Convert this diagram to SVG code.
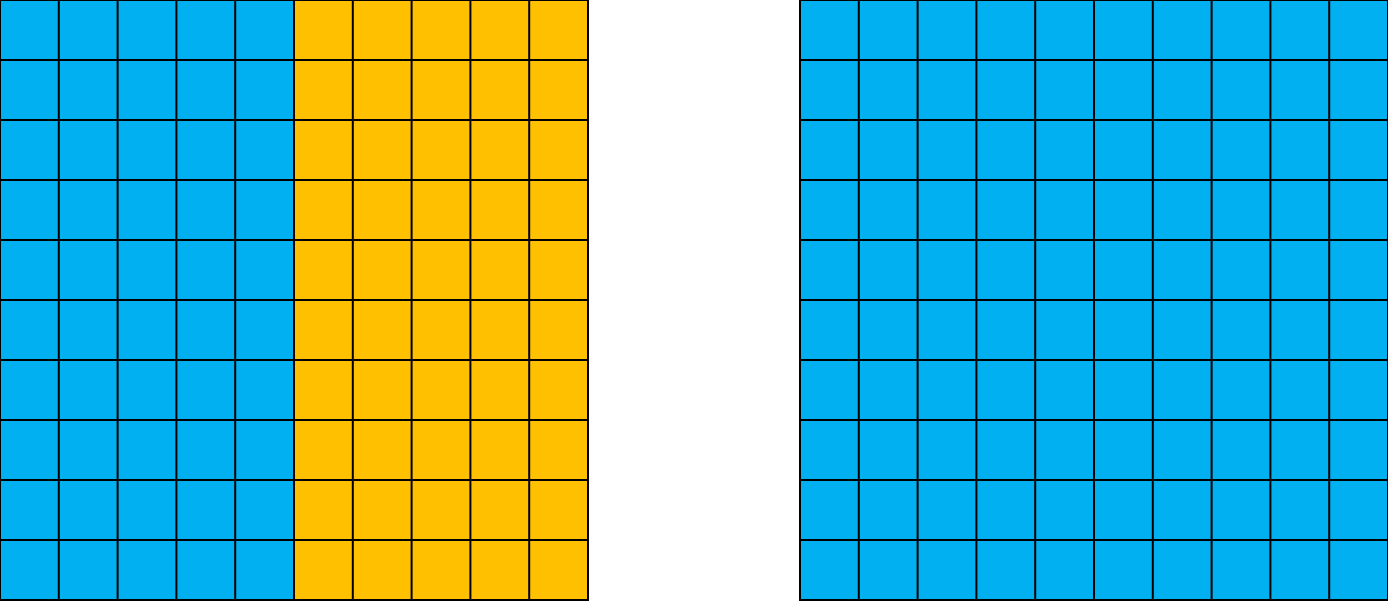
<svg xmlns="http://www.w3.org/2000/svg" width="1388" height="601" viewBox="0 0 1388 601">
<defs>
<pattern id="cellB" x="0" y="0" width="58.8" height="60" patternUnits="userSpaceOnUse">
<rect width="58.8" height="60" fill="#00B0F0"/>
</pattern>
</defs>
<style>
.b{fill:#00B0F0}
.o{fill:#FFC000}
.g{stroke:#000;stroke-width:2;fill:none}
</style>
<rect width="1388" height="601" fill="#fff"/>
<g id="left-grid">
<rect class="b" x="0" y="0" width="294" height="600"/>
<rect class="o" x="294" y="0" width="294" height="600"/>
<path class="g" d="M0,0H588V600H0Z M58.8,0V600 M117.6,0V600 M176.4,0V600 M235.2,0V600 M294,0V600 M352.8,0V600 M411.6,0V600 M470.4,0V600 M529.2,0V600 M0,60H588 M0,120H588 M0,180H588 M0,240H588 M0,300H588 M0,360H588 M0,420H588 M0,480H588 M0,540H588"/>
</g>
<g id="right-grid">
<rect class="b" x="800" y="0" width="588" height="600"/>
<path class="g" d="M800,0H1388V600H800Z M858.8,0V600 M917.6,0V600 M976.4,0V600 M1035.2,0V600 M1094,0V600 M1152.8,0V600 M1211.6,0V600 M1270.4,0V600 M1329.2,0V600 M800,60H1388 M800,120H1388 M800,180H1388 M800,240H1388 M800,300H1388 M800,360H1388 M800,420H1388 M800,480H1388 M800,540H1388"/>
</g>
<g id="connectors"></g>
</svg>
